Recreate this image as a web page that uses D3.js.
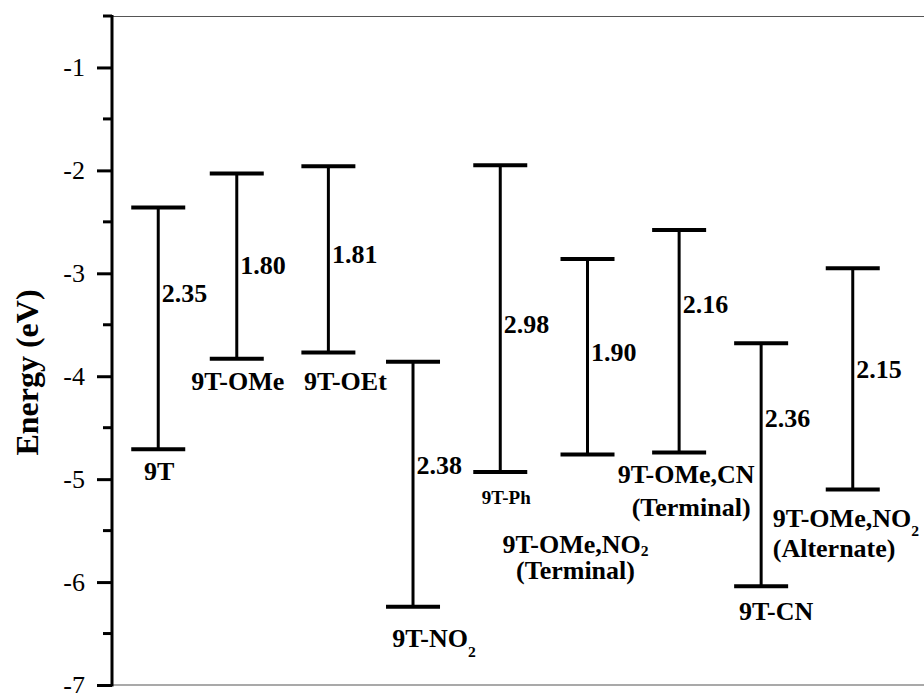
<!DOCTYPE html>
<html>
<head>
<meta charset="utf-8">
<script src="https://cdn.jsdelivr.net/npm/d3@7"></script>
<style>
  html, body { margin: 0; padding: 0; background: #fff; }
  svg { display: block; }
</style>
</head>
<body>
<svg id="chart" width="924" height="693"></svg>
<script>
// Molecules, their position along x, and LUMO / HOMO levels (eV)
const molecules = ["9T", "9T-OMe", "9T-OEt", "9T-NO2", "9T-Ph",
  "9T-OMe,NO2 (Terminal)", "9T-OMe,CN (Terminal)", "9T-CN", "9T-OMe,NO2 (Alternate)"];
const xValues = [1.03, 1.93, 2.98, 3.95, 4.95, 5.95, 7.0, 7.94, 8.99];
const lumo = [-2.36, -2.03, -1.96, -3.86, -1.95, -2.86, -2.58, -3.68, -2.95];
const homo = [-4.71, -3.83, -3.77, -6.24, -4.93, -4.76, -4.74, -6.04, -5.10];
// Energy level at which each band-gap label sits
const gapLabelLevel = [-3.28, -3.01, -2.90, -4.95, -3.58, -3.85, -3.39, -4.49, -4.02];
const yTicks = [-7, -6, -5, -4, -3, -2, -1];

const FONT = "Liberation Serif";

// Label layout: lines of each name (with subscripts), anchor, offsets from bar
const nameLayout = [
  { lines: [[["9T"]]], anchor: "middle", dx: 1, dy: 31, lh: 0, size: 26 },
  { lines: [[["9T-OMe"]]], anchor: "middle", dx: 1, dy: 31, lh: 0, size: 26 },
  { lines: [[["9T-OEt"]]], anchor: "middle", dx: 17, dy: 37, lh: 0, size: 26 },
  { lines: [[["9T-NO"], ["2", true]]], anchor: "middle", dx: 21, dy: 40, lh: 0, size: 26, subDy: 10 },
  { lines: [[["9T-Ph"]]], anchor: "middle", dx: 6, dy: 32, lh: 0, size: 19 },
  { lines: [[["9T-OMe,NO"], ["2", true]], [["(Terminal)"]]], anchor: "middle", dx: -12, dy: 99, lh: 26, size: 26, subDy: 3 },
  { lines: [[["9T-OMe,CN"]], [["(Terminal)"]]], anchor: "middle", dx: 7, dy: 31, lh: 33, size: 26, dx2: 5 },
  { lines: [[["9T-CN"]]], anchor: "middle", dx: 15, dy: 34, lh: 0, size: 26 },
  { lines: [[["9T-OMe,NO"], ["2", true]], [["(Alternate)"]]], anchor: "start", dx: -80, dy: 38, lh: 30, size: 26, subDy: 9 }
];

const svg = d3.select("#chart");
const W = 924, H = 693;
const plotLeft = 112, plotTop = 16, plotBottom = 685;

const x = d3.scaleLinear().domain([0.5, 10.5]).range([plotLeft, plotLeft + 10 * 87.25]);
const y = d3.scaleLinear().domain([-7, -0.5]).range([plotBottom, plotTop]);

svg.append("rect").attr("width", W).attr("height", H).attr("fill", "#fff");

// Frame lines at top and bottom
svg.append("line").attr("x1", plotLeft).attr("x2", W + 20).attr("y1", plotTop + 0.5).attr("y2", plotTop + 0.5)
  .attr("stroke", "#555").attr("stroke-width", 1.2);
svg.append("line").attr("x1", plotLeft).attr("x2", W + 20).attr("y1", plotBottom).attr("y2", plotBottom)
  .attr("stroke", "#555").attr("stroke-width", 1.2);

// Left energy axis
const yAxis = d3.axisLeft(y).tickValues(yTicks).tickSize(15).tickPadding(12)
  .tickFormat(d => String(d));
const gy = svg.append("g").attr("transform", `translate(${plotLeft},0)`).call(yAxis);
gy.attr("font-family", null);
gy.select(".domain").remove();
gy.selectAll(".tick line").attr("stroke", "#000").attr("stroke-width", 3);
gy.selectAll(".tick text").attr("font-size", 26).style("font-family", FONT).attr("fill", "#000");
// minor ticks
const minor = d3.range(-6.5, -0.4, 1);
gy.selectAll(".minor").data(minor).join("line").attr("class", "minor")
  .attr("x1", -9).attr("x2", 0).attr("y1", d => y(d)).attr("y2", d => y(d))
  .attr("stroke", "#000").attr("stroke-width", 3);
gy.append("line").attr("x1", 0).attr("x2", 0).attr("y1", plotTop - 1).attr("y2", plotBottom + 1.5)
  .attr("stroke", "#000").attr("stroke-width", 3);

svg.append("text")
  .attr("transform", `translate(38,${(plotTop + plotBottom) / 2 + 22}) rotate(-90)`)
  .attr("text-anchor", "middle").attr("font-weight", "bold").attr("font-size", 32)
  .style("font-family", FONT)
  .text("Energy (eV)");

// Band-gap bars
const data = molecules.map((m, i) => ({
  name: m, x: xValues[i], lumo: lumo[i], homo: homo[i],
  gap: Math.round((lumo[i] - homo[i]) * 100) / 100,
  labelLevel: gapLabelLevel[i], layout: nameLayout[i]
}));

const capHalf = 27;
const bars = svg.append("g").selectAll("g").data(data).join("g");
bars.append("line")
  .attr("x1", d => x(d.x)).attr("x2", d => x(d.x))
  .attr("y1", d => y(d.lumo)).attr("y2", d => y(d.homo))
  .attr("stroke", "#000").attr("stroke-width", 3);
bars.append("line")
  .attr("x1", d => x(d.x) - capHalf).attr("x2", d => x(d.x) + capHalf)
  .attr("y1", d => y(d.lumo)).attr("y2", d => y(d.lumo))
  .attr("stroke", "#000").attr("stroke-width", 4);
bars.append("line")
  .attr("x1", d => x(d.x) - capHalf).attr("x2", d => x(d.x) + capHalf)
  .attr("y1", d => y(d.homo)).attr("y2", d => y(d.homo))
  .attr("stroke", "#000").attr("stroke-width", 4);

// Gap value labels
bars.append("text")
  .attr("x", d => x(d.x) + 3.5).attr("y", d => y(d.labelLevel))
  .attr("font-weight", "bold").attr("font-size", 26)
  .style("font-family", FONT).attr("fill", "#000")
  .text(d => d.gap.toFixed(2));

// Molecule name labels
bars.each(function (d) {
  const L = d.layout;
  const g = d3.select(this);
  L.lines.forEach((parts, li) => {
    const t = g.append("text")
      .attr("x", x(d.x) + L.dx + (li > 0 && L.dx2 !== undefined ? L.dx2 : 0))
      .attr("y", y(d.homo) + L.dy + li * L.lh)
      .attr("text-anchor", L.anchor)
      .attr("font-weight", "bold").attr("font-size", L.size)
      .style("font-family", FONT).attr("fill", "#000");
    parts.forEach(([s, sub]) => {
      const ts = t.append("tspan").text(s);
      if (sub) ts.attr("font-size", L.size * 0.6).attr("dy", L.subDy);
    });
  });
});
</script>
</body>
</html>
